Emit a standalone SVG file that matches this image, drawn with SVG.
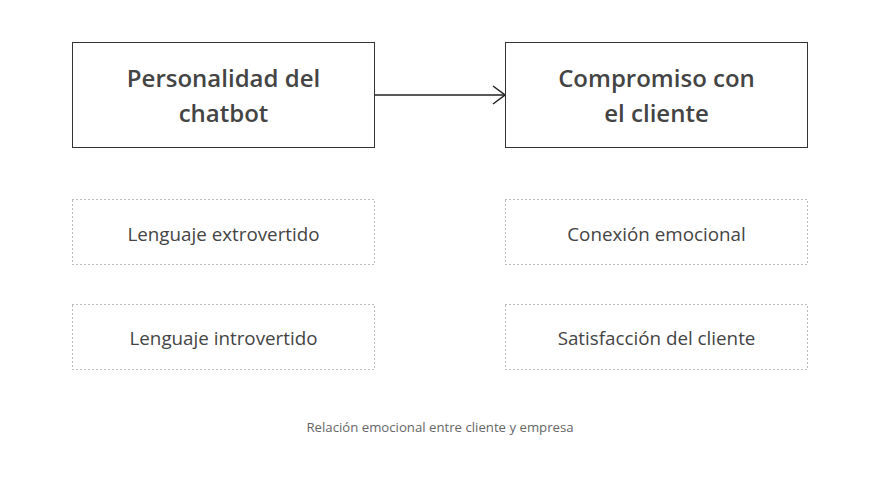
<svg xmlns="http://www.w3.org/2000/svg" width="880" height="479" viewBox="0 0 880 479">
<style>
.main{fill:#fff;stroke:#333;stroke-width:1}
.sub{fill:#fff;stroke:#777;stroke-width:1;stroke-dasharray:1 3}
.t1{font-family:"Open Sans","Noto Sans",sans-serif;font-size:24px;font-weight:600;fill:#444;text-anchor:middle}
.t2{font-family:"Open Sans","Noto Sans",sans-serif;font-size:18.8px;fill:#444;text-anchor:middle}
.cap{font-family:"Open Sans","Noto Sans",sans-serif;font-size:13.2px;fill:#666;text-anchor:middle}
</style>
<defs>
<marker id="arr" markerWidth="14" markerHeight="20" refX="13" refY="10" orient="auto" markerUnits="userSpaceOnUse">
<path d="M1,1 L13,10 L1,19" fill="none" stroke="#222" stroke-width="1.5"/>
</marker>
</defs>
<rect width="880" height="479" fill="#fff"/>
<g id="connectors">
<line x1="374" y1="95" x2="505" y2="95" stroke="#222" stroke-width="1.5" marker-end="url(#arr)"/>
</g>
<g id="personalidad">
<rect class="main" x="72.5" y="42.5" width="302" height="105"/>
<text class="t1" x="223.5" y="87">Personalidad del</text>
<text class="t1" x="223.5" y="122">chatbot</text>
</g>
<g id="compromiso">
<rect class="main" x="505.5" y="42.5" width="302" height="105"/>
<text class="t1" x="656.5" y="87">Compromiso con</text>
<text class="t1" x="656.5" y="122">el cliente</text>
</g>
<g id="extrovertido">
<rect class="sub" x="72.5" y="199.5" width="302" height="65"/>
<text class="t2" x="223.5" y="241">Lenguaje extrovertido</text>
</g>
<g id="introvertido">
<rect class="sub" x="72.5" y="304.5" width="302" height="65"/>
<text class="t2" x="223.5" y="345">Lenguaje introvertido</text>
</g>
<g id="conexion">
<rect class="sub" x="505.5" y="199.5" width="302" height="65"/>
<text class="t2" x="656.5" y="241">Conexión emocional</text>
</g>
<g id="satisfaccion">
<rect class="sub" x="505.5" y="304.5" width="302" height="65"/>
<text class="t2" x="656.5" y="345">Satisfacción del cliente</text>
</g>
<text class="cap" x="440" y="432">Relación emocional entre cliente y empresa</text>
</svg>
